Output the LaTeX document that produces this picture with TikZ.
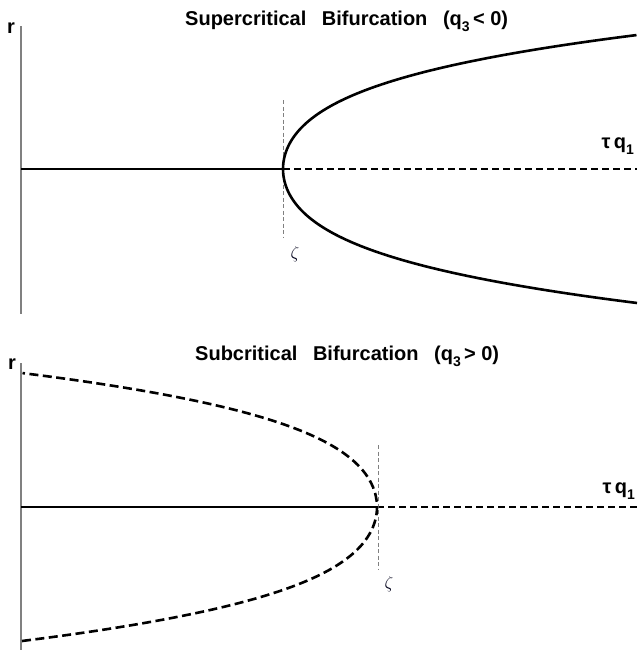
\documentclass[tikz,border=0pt]{standalone}
\usepackage{fontspec}
\setmainfont{Liberation Sans}
\begin{document}
\begin{tikzpicture}[x=1pt,y=-1pt,
  axisline/.style={draw=black!50, line width=1.1pt},
  mainline/.style={line width=2.6pt, line cap=butt},
  dashline/.style={line width=2.6pt, dash pattern=on 7pt off 4pt},
  curvedash/.style={line width=2.6pt, dash pattern=on 9pt off 4.5pt},
  markline/.style={draw=black!50, line width=0.7pt, dash pattern=on 4pt off 2.5pt},
  ttl/.style={font=\fontsize{20}{24}\selectfont\bfseries, inner sep=0pt, anchor=base west},
  lbl/.style={font=\fontsize{20}{24}\selectfont\bfseries, inner sep=0pt},
  zet/.style={font=\fontsize{18}{20}\selectfont, inner sep=0pt, text=black!90!blue}]
\useasboundingbox (0,0) rectangle (637,653);
% ---------- top panel ----------
\node[ttl] (t1) at (185,25) {Supercritical\hspace{0.5em} Bifurcation\hspace{0.5em} (q\raisebox{-0.3em}{\fontsize{14}{14}\selectfont 3}\,< 0)};
\coordinate (a1top) at (21,26);
\coordinate (a1bot) at (21,314);
\draw[axisline] (a1top) -- (a1bot);
\node[lbl, anchor=base west] (r1) at (7,33) {r};
\coordinate (h1l) at (21,169);
\coordinate (v1) at (283,169);
\coordinate (h1r) at (637,169);
\draw[mainline] (h1l) -- (v1);
\draw[dashline] (v1) -- (h1r);
\coordinate (m1t) at (283,100);
\coordinate (m1b) at (283,237);
\draw[markline] (m1t) -- (m1b);
\node[zet] (z1) at (295,254) {$\zeta$};
\node[lbl, anchor=base east] (tq1) at (634,148) {τ\,q\raisebox{-0.3em}{\fontsize{14}{14}\selectfont 1}};
\draw[mainline] plot[domain=-1:1, samples=81, variable=\s, smooth]
  ({283+354*(0.5*\s*\s+0.5*\s*\s*\s*\s)}, {169-134*\s});
% ---------- bottom panel ----------
\node[ttl] (t2) at (195,360) {Subcritical\hspace{0.5em} Bifurcation\hspace{0.5em} (q\raisebox{-0.3em}{\fontsize{14}{14}\selectfont 3}\,> 0)};
\coordinate (a2top) at (21,363);
\coordinate (a2bot) at (21,650);
\draw[axisline] (a2top) -- (a2bot);
\node[lbl, anchor=base west] (r2) at (8,369) {r};
\coordinate (h2l) at (21,507);
\coordinate (v2) at (377,507);
\coordinate (h2r) at (637,507);
\draw[mainline] (h2l) -- (v2);
\draw[dashline] (v2) -- (h2r);
\coordinate (m2t) at (378,445);
\coordinate (m2b) at (378,569);
\draw[markline] (m2t) -- (m2b);
\node[zet] (z2) at (389,584) {$\zeta$};
\node[lbl, anchor=base east] (tq2) at (635,493) {τ\,q\raisebox{-0.3em}{\fontsize{14}{14}\selectfont 1}};
\draw[curvedash] plot[domain=-1:1, samples=81, variable=\s, smooth]
  ({377-355*(0.5*\s*\s+0.5*\s*\s*\s*\s)}, {507-134*\s});
\end{tikzpicture}
\end{document}
